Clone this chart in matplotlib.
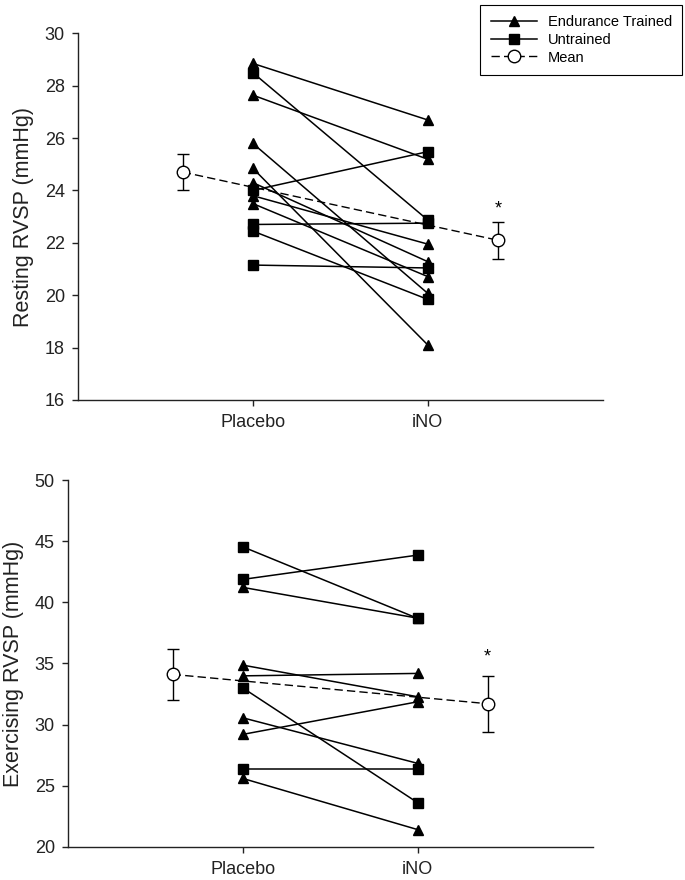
"""
Resting / exercising RVSP: placebo vs iNO
"""

import matplotlib
matplotlib.use('Agg')
import matplotlib.pyplot as plt
from matplotlib.lines import Line2D

plt.rcParams['font.family'] = ['Liberation Sans', 'DejaVu Sans']

# data
conditions = ['Placebo', 'iNO']

# resting RVSP (mmHg)
rest_et_placebo = [28.85, 27.64, 25.8, 24.85, 24.3, 23.8, 23.5]
rest_et_ino = [26.69, 25.19, 20.07, 18.1, 21.28, 21.95, 20.71]
rest_un_placebo = [28.5, 24.0, 22.7, 22.45, 21.15]
rest_un_ino = [22.87, 25.48, 22.75, 19.84, 21.04]
rest_mean = [24.7, 22.1]
rest_sd = [0.7, 0.7]

# exercising RVSP (mmHg)
ex_et_placebo = [41.22, 34.86, 33.98, 30.55, 29.19, 25.59]
ex_et_ino = [38.7, 32.27, 34.18, 26.82, 31.86, 21.4]
ex_un_placebo = [44.54, 41.87, 33.0, 26.33]
ex_un_ino = [38.68, 43.86, 23.6, 26.33]
ex_mean = [34.1, 31.7]
ex_sd = [2.1, 2.3]

fig = plt.figure(figsize=(6.85, 8.8), dpi=100)
ax1 = fig.add_axes([0.1134, 0.5455, 0.7666, 0.4167])
ax2 = fig.add_axes([0.0988, 0.0378, 0.7665, 0.4167])


def draw_panel(ax, et_p, et_i, un_p, un_i, mean, sd, ylim, ystep, ylabel, star_y):
    x_p, x_i = 1, 2
    for a, b in zip(et_p, et_i):
        ax.plot([x_p, x_i], [a, b], '-', color='black', lw=1.1,
                marker='^', ms=7.5, mfc='black', mec='black', zorder=3)
    for a, b in zip(un_p, un_i):
        ax.plot([x_p, x_i], [a, b], '-', color='black', lw=1.1,
                marker='s', ms=6.5, mfc='black', mec='black', zorder=3)

    # mean +/- SD
    mx = [0.6, 2.4]
    ax.errorbar(mx, mean, yerr=sd, fmt='none', ecolor='black',
                elinewidth=1.0, capsize=4.3, capthick=1.0, zorder=4)
    ax.plot(mx, mean, '--', color='black', lw=1.0, dashes=(6, 3),
            marker='o', ms=9, mfc='white', mec='black', mew=1.0, zorder=5)
    ax.text(mx[1], star_y, '*', ha='center', va='center', fontsize=13)

    ax.set_xlim(0, 3)
    ax.set_ylim(*ylim)
    ax.set_xticks([x_p, x_i])
    ax.set_xticklabels(conditions)
    ax.set_yticks(range(ylim[0], ylim[1] + 1, ystep))
    ax.tick_params(axis='both', direction='out', length=4.3, width=1.0,
                   labelsize=13, colors='#222222')
    ax.tick_params(axis='x', pad=6)
    ax.tick_params(axis='y', pad=5)
    ax.spines['top'].set_visible(False)
    ax.spines['right'].set_visible(False)
    for s in ('left', 'bottom'):
        ax.spines[s].set_linewidth(1.0)
        ax.spines[s].set_color('#222222')
    ax.set_ylabel(ylabel, fontsize=15.5, color='#222222', labelpad=8)


draw_panel(ax1, rest_et_placebo, rest_et_ino, rest_un_placebo, rest_un_ino,
           rest_mean, rest_sd, (16, 30), 2, 'Resting RVSP (mmHg)', 23.3)
draw_panel(ax2, ex_et_placebo, ex_et_ino, ex_un_placebo, ex_un_ino,
           ex_mean, ex_sd, (20, 50), 5, 'Exercising RVSP (mmHg)', 35.5)

# legend
handles = [
    Line2D([], [], color='black', lw=1.1, marker='^', ms=7.5, mfc='black'),
    Line2D([], [], color='black', lw=1.1, marker='s', ms=6.5, mfc='black'),
    Line2D([], [], color='black', lw=1.0, dashes=(6, 3), marker='o', ms=9,
           mfc='white', mec='black'),
]
leg = fig.legend(handles, ['Endurance Trained', 'Untrained', 'Mean'],
                 loc='upper right', bbox_to_anchor=(682 / 685, 1 - 5 / 880),
                 fontsize=10.5, handlelength=3.2, handletextpad=0.7,
                 labelspacing=0.25, borderpad=0.7, borderaxespad=0,
                 fancybox=False, framealpha=1)
leg.get_frame().set_edgecolor('black')
leg.get_frame().set_linewidth(0.8)

plt.savefig('out.png', dpi=100)
